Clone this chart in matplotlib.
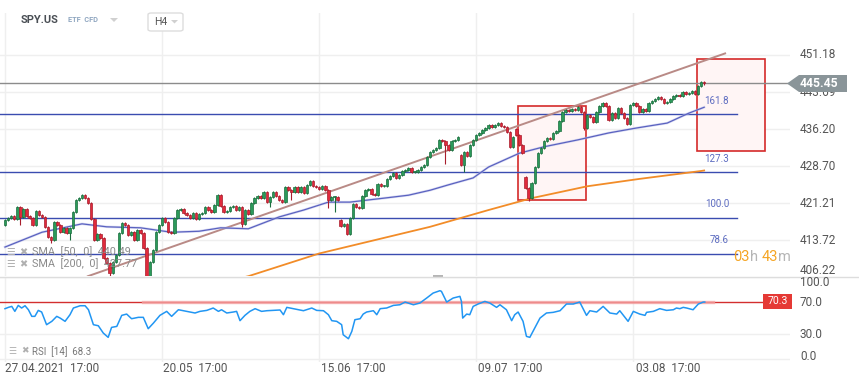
import matplotlib
matplotlib.use("Agg")
import matplotlib.pyplot as plt
from matplotlib.patches import Rectangle, Polygon, FancyBboxPatch
import numpy as np

plt.rcParams['font.family'] = ['Roboto', 'DejaVu Sans']

W, H = 859, 385

# H4 closes, 27.04.2021 17:00 -> 13.08.2021
closes = [417.8, 418.2, 418.6, 418.0, 420.4, 418.4, 420.0, 418.6, 418.2, 416.8,
          419.6, 418.8, 418.4, 416.4, 414.3, 413.7, 417.4, 416.8, 415.4, 416.2,
          415.1, 416.2, 419.4, 421.8, 422.2, 422.8, 422.2, 421.2, 418.0, 413.7,
          414.9, 414.1, 410.1, 409.1, 407.1, 409.3, 410.7, 415.1, 417.2, 416.8,
          414.7, 415.4, 413.7, 415.8, 415.1, 412.1, 406.4, 409.3, 411.7, 415.4,
          416.8, 418.2, 417.4, 415.4, 415.1, 418.2, 419.8, 420.0, 419.2, 418.8,
          418.2, 419.2, 418.0, 419.0, 419.2, 420.4, 419.8, 419.4, 420.8, 422.8,
          420.6, 419.4, 419.6, 420.4, 420.6, 419.8, 420.4, 417.0, 419.8, 419.0,
          421.2, 422.2, 422.6, 422.2, 423.4, 421.4, 422.4, 423.4, 422.6, 421.8,
          421.4, 424.5, 423.9, 423.4, 424.5, 423.4, 424.5, 423.2, 424.9, 425.7,
          424.7, 424.5, 424.1, 424.7, 423.9, 421.8, 422.4, 422.4, 421.8, 416.6,
          417.0, 414.9, 418.2, 421.0, 420.4, 420.2, 422.6, 423.9, 424.1, 423.0,
          422.8, 425.1, 424.7, 424.7, 426.1, 426.7, 427.3, 426.3, 426.9, 427.7,
          427.9, 428.3, 427.5, 427.5, 427.9, 428.5, 428.9, 430.5, 431.5, 432.0,
          432.4, 434.0, 433.8, 433.0, 432.0, 433.8, 434.0, 434.6, 428.9, 431.5,
          430.7, 433.0, 434.0, 435.0, 435.4, 436.0, 436.4, 437.0, 436.6, 437.0,
          437.4, 436.8, 436.6, 435.6, 432.6, 434.6, 435.0, 433.0, 431.3, 424.3,
          422.2, 425.3, 428.5, 431.3, 432.4, 433.8, 434.4, 434.2, 435.4, 435.8,
          437.8, 439.6, 440.0, 439.8, 440.3, 440.0, 440.7, 439.6, 436.4, 439.0,
          438.6, 437.6, 439.6, 440.9, 441.5, 440.9, 438.0, 439.4, 438.4, 440.5,
          439.4, 438.4, 437.2, 441.1, 441.5, 440.9, 439.6, 440.3, 439.8, 441.5,
          441.9, 442.3, 442.7, 442.3, 441.5, 441.7, 442.3, 442.9, 443.1, 442.9,
          443.7, 443.3, 443.5, 443.9, 443.3, 444.9, 445.7, 445.45]
# bars whose open does not equal the previous close
gap_opens = {0: 416.8, 109: 417.8, 148: 430.9, 166: 436.2, 169: 426.5}
# visible long lower shadows
long_lows = {5: 416.8, 15: 413.1, 21: 413.7, 34: 406.4, 77: 416.4, 86: 420.4,
             93: 421.8, 105: 420.2, 107: 419.4, 143: 429.1, 149: 427.5,
             170: 421.6, 188: 436.0}

sma50_idx = [0, 12, 25, 33, 44, 54, 63, 70, 79, 84, 89, 97, 105, 112, 123, 131,
             138, 144, 152, 157, 167, 175, 186, 196, 205, 215, 222, 227]
sma50_val = [412.3, 415.3, 417.0, 416.4, 416.2, 415.3, 415.5, 416.2, 416.0, 417.2,
             418.4, 419.8, 421.4, 421.4, 422.2, 422.8, 423.8, 424.9, 426.3, 428.5,
             431.3, 432.6, 434.0, 435.4, 436.4, 437.4, 439.4, 440.6]
sma200_idx = [75, 79, 102, 138, 157, 171, 189, 206, 226, 227]
sma200_val = [405.8, 406.4, 411.0, 416.4, 419.8, 422.2, 424.6, 426.1, 427.7, 427.8]

fib_levels = [439.23, 427.51, 418.24, 410.97]
fib_labels = ['161.8', '127.3', '100.0', '78.6']

trend_idx = [26.9, 233.8]
trend_val = [406.4, 451.5]

boxes = [(166.6, 188.6, 421.8, 440.8), (224.7, 246.8, 431.7, 450.4)]

price_ticks = [451.18, 443.69, 436.20, 428.70, 421.21, 413.72, 406.22]
last_price = 445.45

rsi_idx = [0, 1.1, 2.2, 3.2, 4.3, 5.4, 6.5, 7.6, 8.7, 9.7, 10.8, 11.9, 13.5, 15.2,
           16.8, 17.9, 19.5, 21.1, 22.2, 24.4, 26.0, 27.1, 28.7, 30.3, 31.9, 33.5,
           34.6, 36.3, 37.9, 39.5, 41.1, 43.3, 44.9, 46.5, 48.2, 50.3, 52.5, 54.1,
           56.3, 59.0, 61.7, 63.3, 65.5, 67.6, 69.3, 70.3, 72.0, 74.1, 75.2, 76.3,
           77.9, 79.5, 81.2, 83.3, 85.0, 87.1, 89.3, 90.4, 91.5, 93.6, 95.2, 96.9,
           99.6, 101.2, 103.4, 105.0, 106.1, 107.7, 109.3, 109.8, 111.5, 112.6,
           113.6, 115.3, 116.3, 117.4, 119.6, 120.7, 121.8, 123.9, 126.1, 128.2,
           129.9, 132.6, 134.7, 136.9, 139.0, 141.2, 141.7, 143.4, 145.5, 147.7,
           148.2, 148.6, 149.9, 150.9, 152.0, 153.6, 155.8, 157.4, 159.6, 160.7,
           162.8, 164.5, 165.5, 166.6, 168.2, 169.3, 170.4, 172.0, 173.7, 175.8,
           178.0, 180.2, 182.3, 184.5, 186.6, 188.8, 189.9, 192.1, 194.2, 196.4,
           198.6, 199.6, 202.3, 204.0, 206.1, 207.8, 208.3, 210.5, 212.6, 214.8,
           217.0, 218.0, 219.1, 220.2, 221.3, 223.4, 225.1, 226.7, 227.2]
rsi_val = [61.6, 63.2, 64.4, 58.3, 65.6, 62.4, 65.2, 60.3, 52.2, 52.2, 59.5, 57.5, 42.0,
           46.1, 52.2, 50.1, 46.1, 54.2, 62.4, 65.2, 65.2, 60.3, 42.0, 40.7, 31.8, 26.5,
           38.7, 39.9, 53.4, 55.0, 49.3, 51.0, 51.0, 37.1, 44.0, 53.4, 58.3, 52.2,
           60.3, 58.3, 56.3, 58.3, 59.5, 62.4, 58.3, 60.3, 56.3, 57.5, 58.3, 46.9,
           53.4, 58.3, 61.6, 58.3, 59.1, 59.5, 60.0, 54.2, 63.2, 61.6, 60.3, 59.1,
           62.4, 59.5, 59.1, 54.2, 46.9, 46.1, 42.0, 29.7, 24.8, 33.8,
           48.1, 49.3, 55.0, 57.5, 59.1, 54.2, 61.6, 62.4, 65.6, 66.4,
           69.7, 66.4, 68.5, 74.6, 80.7, 83.6, 82.8, 69.7, 74.6, 76.7,
           70.5, 50.1, 55.0, 54.2, 64.4, 67.3, 70.5, 68.5, 63.2, 66.4,
           60.3, 46.9, 54.2, 57.5, 46.1, 27.7, 26.5, 37.9, 50.1, 56.3,
           57.1, 59.1, 67.3, 67.3, 69.7, 53.4, 59.1, 57.5, 64.4, 56.3,
           55.0, 59.1, 46.1, 58.3, 55.0, 53.4, 57.1, 58.3, 61.6, 59.5,
           60.3, 62.4, 61.6, 63.2, 62.4, 60.3, 67.3, 69.7, 69.7]
rsi_level = 70.3

date_idx = [0, 51, 102, 153, 204]
date_labels = ['27.04.2021  17:00', '20.05  17:00', '15.06  17:00', '09.07  17:00', '03.08  17:00']
date_px = [5, 163, 321, 478, 636]


def fx(x):
    return x / W


def fy(y):
    return 1 - y / H


fig = plt.figure(figsize=(W / 100, H / 100), dpi=100)
fig.patch.set_facecolor('white')

ax = fig.add_axes([0, fy(276), fx(790), (276 - 13) / H])
ax2 = fig.add_axes([0, fy(362), fx(790), (362 - 277) / H])

x0, x1 = -5 / 3.08, 785 / 3.08
for a in (ax, ax2):
    a.set_xlim(x0, x1)
    for s in a.spines.values():
        s.set_visible(False)
    a.set_xticks([])
    a.set_yticks([])
    a.patch.set_alpha(0)
    for d in date_idx:
        a.axvline(d, color='#efefef', lw=1, zorder=0)

ax.set_ylim(451.18 - 221 / 4.94, 451.18 + 42 / 4.94)
ax2.set_ylim(-3.67, 100.37)

for p in price_ticks:
    ax.axhline(p, color='#efefef', lw=1, zorder=0)
for v in (0, 30, 100):
    ax2.axhline(v, color='#efefef', lw=1, zorder=0)

# legend labels sit under the candles
fig.text(fx(6), fy(252), '\u2630', fontsize=7, color='#b0b0b0', family='DejaVu Sans', va='center')
fig.text(fx(19), fy(252), '\u2716', fontsize=7, color='#b0b0b0', family='DejaVu Sans', va='center')
fig.text(fx(32), fy(252), 'SMA  [50,  0]  440.49', fontsize=7.8, color='#8a8a8a', va='center')
fig.text(fx(6), fy(264), '\u2630', fontsize=7, color='#b0b0b0', family='DejaVu Sans', va='center')
fig.text(fx(19), fy(264), '\u2716', fontsize=7, color='#b0b0b0', family='DejaVu Sans', va='center')
fig.text(fx(32), fy(264), 'SMA  [200,  0]  427.77', fontsize=7.8, color='#8a8a8a', va='center')

# fibonacci levels
for lv, lb in zip(fib_levels, fib_labels):
    ax.plot([x0, 237.7], [lv, lv], color='#3a4cb0', lw=1, zorder=2)
    ax.annotate(lb, (235.1, lv), xytext=(0, 6), textcoords='offset points',
                ha='right', va='bottom', fontsize=7, color='#5c6bc0')

# current price line
ax.axhline(last_price, color='#8c8c8c', lw=1, zorder=2)

# trend line
ax.plot(trend_idx, trend_val, color='#b98a86', lw=1.4, zorder=2)

# boxes
for i0, i1, lo, hi in boxes:
    ax.add_patch(Rectangle((i0, lo), i1 - i0, hi - lo, facecolor='#fff5f5',
                           edgecolor='#d42a2a', lw=1.2, zorder=1))

# moving averages
ax.plot(sma50_idx, sma50_val, color='#c3c6ec', lw=1.8, alpha=0.6, zorder=2)
ax.plot(sma50_idx, sma50_val, color='#5a62c0', lw=0.9, zorder=2)
ax.plot(sma200_idx, sma200_val, color='#f28c28', lw=1.3, zorder=2)

# candles
idx = np.arange(len(closes))
opens = [gap_opens.get(i, closes[i - 1] if i > 0 else closes[0]) for i in idx]
for i in idx:
    o, c = opens[i], closes[i]
    up = c >= o
    face = '#2b9a5a' if up else '#e02a3c'
    edge = '#1b6e3e' if up else '#a81d2c'
    lo_b, hi_b = min(o, c), max(o, c)
    lo_w = long_lows.get(i, lo_b - 0.25)
    ax.vlines(i, lo_w, hi_b + 0.25, color=edge, lw=0.8, zorder=3)
    ax.bar(i, max(hi_b - lo_b, 0.15), bottom=lo_b, width=0.8, color=face,
           edgecolor=edge, lw=0.5, zorder=4)

# RSI panel
ax2.plot([x0, (763 - 5) / 3.08], [rsi_level, rsi_level], color='#d32f2f', lw=1, zorder=2)
ax2.plot([(143 - 5) / 3.08, (713 - 5) / 3.08], [rsi_level, rsi_level], color='#f4a3a3',
         lw=2.4, alpha=0.8, zorder=2)
ax2.plot(rsi_idx, rsi_val, color='#2196f3', lw=1.1, zorder=3)
fig.text(fx(8), fy(351), '\u2630', fontsize=6.5, color='#b0b0b0', family='DejaVu Sans', va='center')
fig.text(fx(21), fy(351), '\u2716', fontsize=6.5, color='#b0b0b0', family='DejaVu Sans', va='center')
fig.text(fx(32), fy(352), 'RSI  [14]  68.3', fontsize=7, color='#777777', va='center')

# separator and handle
fig.add_artist(plt.Line2D([0, 1], [fy(276.5), fy(276.5)], color='#dddddd', lw=1))
fig.add_artist(Rectangle((fx(433), fy(277.5)), fx(10), 3 / H, facecolor='#b5b5b5',
                         edgecolor='none'))

# right axis labels
for p in price_ticks:
    y = 55 + (451.18 - p) * 4.94
    if p < 407:
        y = 270
    fig.text(fx(800), fy(y), f'{p:.2f}', fontsize=8.5, color='#555555', va='center')
for v, y in [(100, 283), (70, 302), (30, 335), (0, 356)]:
    fig.text(fx(800), fy(y), f'{v:.1f}', fontsize=8.5, color='#555555', va='center')

# last price tag
fig.add_artist(Polygon([(fx(787), fy(83.5)), (fx(799), fy(75)), (fx(847), fy(75)),
                        (fx(847), fy(92)), (fx(799), fy(92))], closed=True,
                       facecolor='#8a9599', edgecolor='none', zorder=5))
fig.text(fx(800), fy(83.5), f'{last_price:.2f}', fontsize=8.8, color='white',
         fontweight='bold', va='center', zorder=6)

# rsi tag
fig.add_artist(Rectangle((fx(763), fy(309)), fx(29), 15 / H, facecolor='#e53935',
                         edgecolor='none', zorder=5))
fig.text(fx(777.5), fy(301.5), '70.3', fontsize=7.5, color='white', ha='center',
         va='center', zorder=6)

# date labels
for px_, lb in zip(date_px, date_labels):
    fig.text(fx(px_), fy(369), lb, fontsize=8.5, color='#555555', va='center')

# header
fig.text(fx(21), fy(20), 'SPY.US', fontsize=8, fontweight='bold', color='#4a4f55', va='center')
fig.text(fx(68), fy(20.5), 'ETF  CFD', fontsize=5.3, fontweight='bold', color='#8fa6c0', va='center')
fig.add_artist(Polygon([(fx(110), fy(18)), (fx(118), fy(18)), (fx(114), fy(22))],
                       closed=True, facecolor='#d0d0d0', edgecolor='none'))
fig.add_artist(FancyBboxPatch((fx(148), fy(31)), fx(35), 18 / H,
                              boxstyle='round,pad=0,rounding_size=0.004',
                              facecolor='white', edgecolor='#dddddd', lw=1, zorder=5))
fig.text(fx(154), fy(22), 'H4', fontsize=7.5, color='#555555', va='center', zorder=6)
fig.add_artist(Polygon([(fx(171), fy(20)), (fx(178), fy(20)), (fx(174.5), fy(23.5))],
                       closed=True, facecolor='#d0d0d0', edgecolor='none', zorder=6))

# bar countdown
fig.canvas.draw()
rend = fig.canvas.get_renderer()
xpos = fx(733)
for s, col in [('03', '#f5a524'), ('h ', '#b5b5b5'), ('43', '#f5a524'), ('m', '#b5b5b5')]:
    t = fig.text(xpos, fy(257), s, fontsize=10.5, color=col, va='center')
    bb = t.get_window_extent(rend)
    xpos = bb.x1 / fig.bbox.width

fig.savefig('out.png', dpi=100, facecolor='white')
